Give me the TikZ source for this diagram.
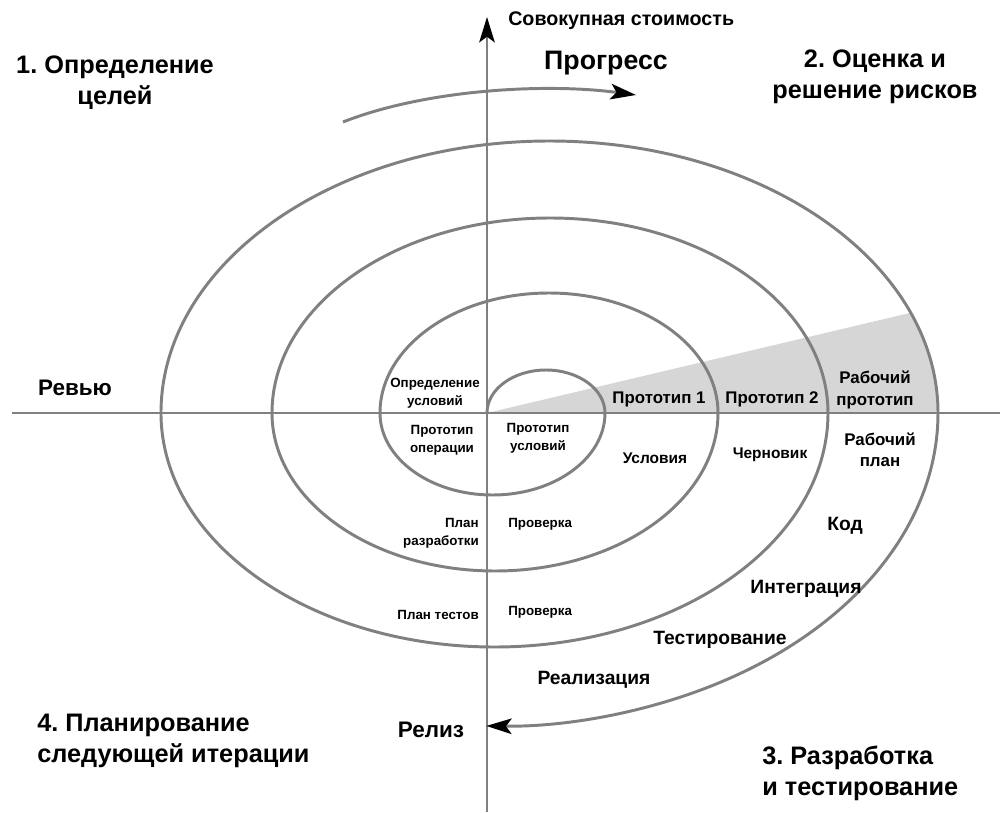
\documentclass[tikz,border=0pt]{standalone}
\usepackage{fontspec}
\setmainfont{Liberation Sans}
\usetikzlibrary{arrows.meta}
\definecolor{linegray}{HTML}{808080}
\definecolor{wedgegray}{HTML}{D6D6D6}
\frenchspacing

\begin{document}
\begin{tikzpicture}[x=0.025cm,y=0.025cm,
			axisline/.style={draw=linegray,line width=2.1pt},
			tip/.style={-{Stealth[length=18pt,width=11pt,inset=4pt,color=black]}},
			phasetext/.style={inner sep=0pt,font=\fontsize{18}{22}\selectfont\bfseries},
			axistext/.style={inner sep=0pt,font=\fontsize{16}{19}\selectfont\bfseries},
			steptext/.style={inner sep=0pt,font=\fontsize{13.7}{16}\selectfont\bfseries},
			prototext/.style={inner sep=0pt,font=\fontsize{12}{15}\selectfont\bfseries},
			smalltext/.style={inner sep=0pt,font=\fontsize{9.5}{12.5}\selectfont\bfseries}]
			\useasboundingbox (-487,-399) rectangle (514,413);

			\begin{scope}
				\clip (-326,0) arc[start angle=180,end angle=0,x radius=388.5,y radius=272] -- cycle;
				\fill[wedgegray] (0,0) -- (520,123) -- (520,0) -- cycle;
			\end{scope}

			\coordinate (vbot) at (0,-399);
			\coordinate (vtop) at (0,396);
			\coordinate (hleft) at (-475,0);
			\coordinate (hright) at (513,0);
			\draw[axisline,tip] (vbot) -- (vtop);
			\draw[axisline] (hleft) -- (hright);

			\coordinate (pstart) at (-144,291);
			\coordinate (pend) at (149,318);
			\draw[axisline,tip] (pstart) .. controls (-60,324) and (60,330) .. (pend);

			\draw[axisline,tip] (0,0)
				arc[start angle=180,end angle=0,x radius=59,y radius=43]
				arc[start angle=0,end angle=-180,x radius=112.5,y radius=82]
				arc[start angle=180,end angle=0,x radius=169,y radius=120]
				arc[start angle=0,end angle=-180,x radius=223,y radius=158]
				arc[start angle=180,end angle=0,x radius=278,y radius=195]
				arc[start angle=0,end angle=-180,x radius=333.5,y radius=234]
				arc[start angle=180,end angle=0,x radius=388.5,y radius=272]
				arc[start angle=0,end angle=-91,x radius=444,y radius=313];

			\node[phasetext,align=center] (ngoals) at (-372,330) {1. Определение\\целей};
			\node[phasetext,align=center] (nrisks) at (388,336) {2. Оценка и\\решение рисков};
			\node[phasetext,align=left,anchor=west] (ndev) at (275,-360) {3. Разработка\\и тестирование};
			\node[phasetext,align=left,anchor=west] (nplan) at (-450,-328) {4. Планирование\\следующей итерации};

			\node[inner sep=0pt,font=\fontsize{14}{17}\selectfont\bfseries,anchor=west] (ncost) at (21,392) {Совокупная стоимость};
			\node[inner sep=0pt,font=\fontsize{19}{22}\selectfont\bfseries] (nprogress) at (119,350) {Прогресс};

			\node[axistext] (nreview) at (-412,25) {Ревью};
			\node[axistext] (nrelease) at (-56,-317) {Релиз};
			\node[steptext] (nimpl) at (107,-267) {Реализация};
			\node[steptext] (ntest) at (233,-227) {Тестирование};
			\node[steptext] (nintegr) at (319,-176) {Интеграция};
			\node[steptext] (ncode) at (358,-113) {Код};
			\node[prototext] (nproto1) at (172,14) {Прототип 1};
			\node[prototext] (nproto2) at (285,14) {Прототип 2};
			\node[prototext,align=center] (nworkproto) at (388,23) {Рабочий\\прототип};
			\node[prototext,align=center] (nworkplan) at (393,-37) {Рабочий\\план};
			\node[inner sep=0pt,font=\fontsize{11}{13}\selectfont\bfseries] (nreq) at (168,-45) {Условия};
			\node[inner sep=0pt,font=\fontsize{11}{13}\selectfont\bfseries] (ndraft) at (283,-42) {Черновик};

			\node[smalltext,align=center] (ndefreq) at (-52,20) {Определение\\условий};
			\node[smalltext,align=center] (nprotoop) at (-45,-27) {Прототип\\операции};
			\node[smalltext,align=center] (nprotoreq) at (51,-25) {Прототип\\условий};
			\node[smalltext,align=right,anchor=east] (ndevplan) at (-8,-120) {План\\разработки};
			\node[smalltext,anchor=west] (ncheck1) at (21,-111) {Проверка};
			\node[smalltext,anchor=east] (ntestplan) at (-8,-202) {План тестов};
			\node[smalltext,anchor=west] (ncheck2) at (21,-199) {Проверка};
		\end{tikzpicture}
\end{document}
